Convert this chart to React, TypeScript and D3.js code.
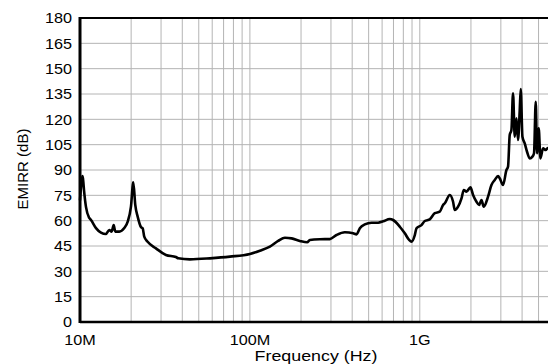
import React, { useEffect, useRef } from 'react'
import * as d3 from 'd3'

// frequency in MHz, EMIRR in dB
const freqMHz = [
  10, 10.14, 10.32, 10.41, 10.56, 10.85, 11.34, 11.61, 12.42, 13.29, 14.22, 14.87, 15.36, 15.79,
  16.13, 17.03, 18.22, 19.09, 19.95, 20.59, 21.15, 21.85, 22.85, 23.38, 23.89, 25.01, 28.0, 32.05,
  36.7, 37.86, 44.37, 58.18, 76.27, 100, 114.5, 131.1, 146.7, 160.7, 176.0, 196.8, 217.4, 225.4,
  258.1, 295.5, 323.6, 362.2, 405.2, 424.3, 443.7, 474.8, 519.8, 568.4, 608.3, 666.1, 696.5,
  762.7, 816.2, 865.3, 893.9, 934.6, 956.3, 1023, 1070, 1145, 1225, 1311, 1371, 1403, 1502, 1570,
  1607, 1680, 1760, 1815, 1883, 1987, 2059, 2156, 2233, 2307, 2379, 2522, 2641, 2762, 2888, 2955,
  3090, 3236, 3307, 3383, 3462, 3538, 3622, 3706, 3786, 3875, 3928, 4019, 4146, 4278, 4437, 4602,
  4703, 4813, 4898, 5012, 5129, 5313, 5511, 5662, 6000,
]
const emirrDb = [
  72, 80, 86.4, 85, 78, 68, 61.6, 60.4, 55.6, 52.9, 52.1, 54.5, 53.5, 57.4,
  53.5, 53.5, 55.6, 59.4, 68.3, 82.7, 69.3, 62.4, 56.2, 55.5, 50.5, 47.5, 43.6, 39.7,
  38.5, 37.7, 37.1, 37.7, 38.7, 40.3, 42.2, 44.6, 48, 49.9, 49.5, 48, 47.2, 48.6,
  49, 49.1, 51.5, 53.1, 52.5, 51.9, 55.5, 57.8, 58.8, 58.8, 59.6, 61, 60.4,
  56.4, 52.5, 48.6, 47.6, 51.5, 55.5, 57.4, 59.8, 60.8, 64.4, 65.3, 69.3, 70.3, 75.2, 71.2,
  66.3, 68.3, 73.2, 78.2, 77.2, 79.7, 75.2, 71.2, 69.3, 72.2, 68.3, 74.2, 81.1, 84.1, 86.4, 85.1,
  81.1, 90, 92, 110.7, 113.7, 135.4, 109.7, 120.6, 107.8, 125.5, 137.9, 109.7, 105.8, 100.8, 96.9, 97.9,
  99.9, 130.4, 99.9, 114.7, 96.9, 102.8, 101.8, 103, 102,
]

const yTicks = [0, 15, 30, 45, 60, 75, 90, 105, 120, 135, 150, 165, 180]
const xMajor = [10, 100, 1000]
const xMajorLabels = ['10M', '100M', '1G']
const xMinor = [20, 30, 40, 50, 60, 70, 80, 90, 200, 300, 400, 500, 600, 700, 800, 900, 2000, 3000, 4000, 5000]

const App: React.FC = () => {
  const svgRef = useRef<SVGSVGElement>(null)
  const width = 548
  const height = 364

  useEffect(() => {
    const svg = d3.select(svgRef.current)
    svg.selectAll('*').remove()

    const margin = { top: 18, right: -4, bottom: 42, left: 80 }
    const innerWidth = width - margin.left - margin.right
    const innerHeight = height - margin.top - margin.bottom
    const font = "'Liberation Sans', Arial, sans-serif"

    const g = svg.append('g').attr('transform', `translate(${margin.left},${margin.top})`)

    const x = d3.scaleLog().domain([10, 6000]).range([0, innerWidth])
    const y = d3.scaleLinear().domain([0, 180]).range([innerHeight, 0])

    // grid
    g.selectAll('.vgrid')
      .data([...xMinor, ...xMajor])
      .enter()
      .append('line')
      .attr('x1', d => x(d))
      .attr('x2', d => x(d))
      .attr('y1', 0)
      .attr('y2', innerHeight)
      .attr('stroke', '#b4b4b4')
      .attr('stroke-width', 1)

    g.selectAll('.hgrid')
      .data(yTicks)
      .enter()
      .append('line')
      .attr('x1', 0)
      .attr('x2', innerWidth)
      .attr('y1', d => y(d))
      .attr('y2', d => y(d))
      .attr('stroke', '#b4b4b4')
      .attr('stroke-width', 1)

    // frame
    g.append('rect')
      .attr('x', 0)
      .attr('y', 0)
      .attr('width', innerWidth)
      .attr('height', innerHeight)
      .attr('fill', 'none')
      .attr('stroke', '#000')
      .attr('stroke-width', 2)
    g.append('line')
      .attr('x1', 0).attr('x2', 0)
      .attr('y1', -1).attr('y2', innerHeight + 1)
      .attr('stroke', '#000')
      .attr('stroke-width', 3)
    g.append('line')
      .attr('x1', 0).attr('x2', innerWidth)
      .attr('y1', innerHeight).attr('y2', innerHeight)
      .attr('stroke', '#000')
      .attr('stroke-width', 2.5)

    // curve
    const pts = freqMHz.map((f, i) => [f, emirrDb[i]] as [number, number])
    const line = d3.line<[number, number]>()
      .x(d => x(d[0]))
      .y(d => y(d[1]))
      .curve(d3.curveMonotoneX)

    g.append('path')
      .datum(pts)
      .attr('fill', 'none')
      .attr('stroke', '#000')
      .attr('stroke-width', 2.6)
      .attr('stroke-linejoin', 'round')
      .attr('d', line)

    // y tick labels
    g.selectAll('.ylab')
      .data(yTicks)
      .enter()
      .append('text')
      .attr('transform', d => `translate(-8,${y(d)}) scale(1.08,1)`)
      .attr('dy', '0.35em')
      .attr('text-anchor', 'end')
      .attr('font-family', font)
      .attr('font-size', 15)
      .attr('fill', '#000')
      .text(d => d)

    // x tick labels
    g.selectAll('.xlab')
      .data(xMajor)
      .enter()
      .append('text')
      .attr('transform', d => `translate(${x(d)},${innerHeight + 23}) scale(1.08,1)`)
      .attr('text-anchor', 'middle')
      .attr('font-family', font)
      .attr('font-size', 15)
      .attr('fill', '#000')
      .text((d, i) => xMajorLabels[i])

    // axis titles
    svg.append('text')
      .attr('transform', 'translate(316,361) scale(1.19,1)')
      .attr('text-anchor', 'middle')
      .attr('font-family', font)
      .attr('font-size', 15)
      .attr('fill', '#000')
      .text('Frequency (Hz)')

    svg.append('text')
      .attr('transform', 'translate(27.5,169) rotate(-90)')
      .attr('text-anchor', 'middle')
      .attr('font-family', font)
      .attr('font-size', 15)
      .attr('fill', '#000')
      .text('EMIRR (dB)')
  }, [])

  return (
    <svg
      ref={svgRef}
      width={width}
      height={height}
      style={{ position: 'absolute', left: 0, top: 0, background: '#fff' }}
    />
  )
}

export default App
